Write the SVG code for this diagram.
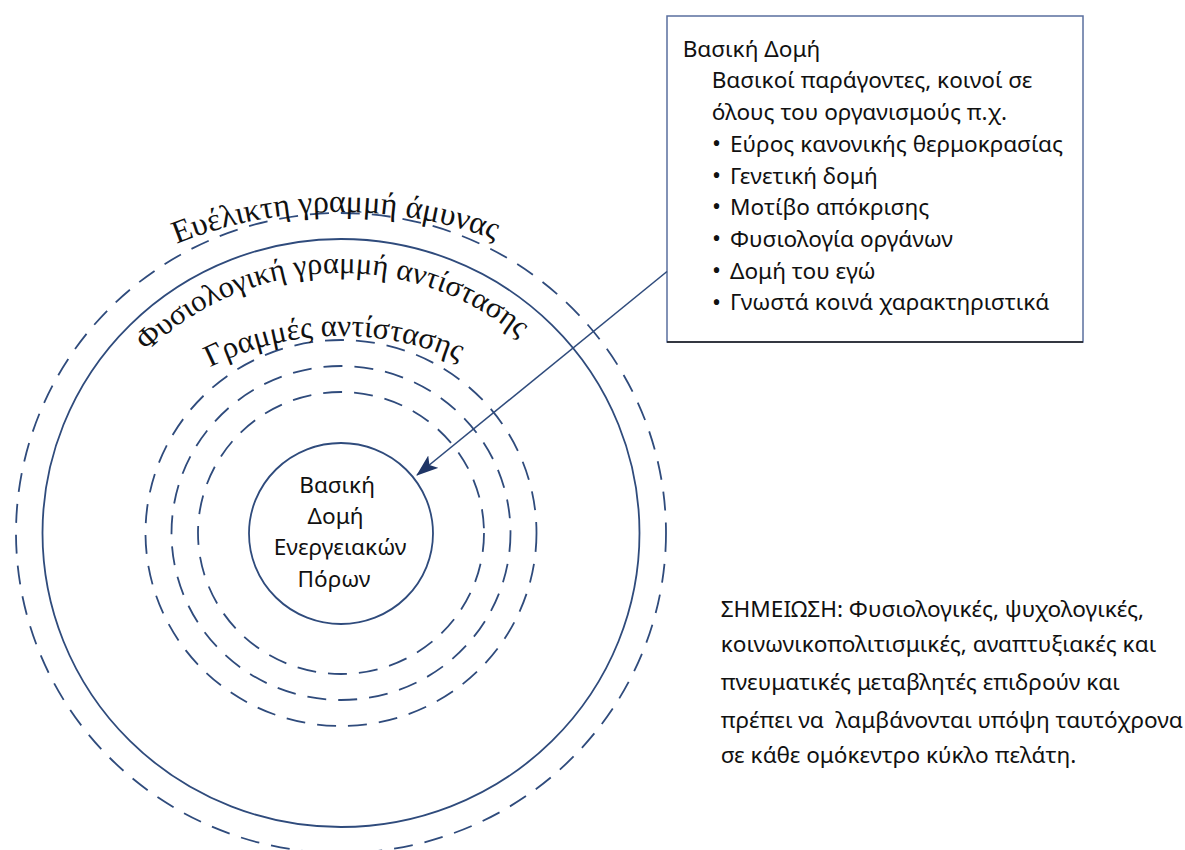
<svg xmlns="http://www.w3.org/2000/svg" width="1185" height="850" viewBox="0 0 1185 850">
  <style>
    .ring { fill: none; stroke: #2f4b7c; stroke-width: 1.8; }
    .dash { stroke-dasharray: 19 12; }
    .serif { font-family: "Liberation Serif", "Times New Roman", serif; fill: #111; }
    .sans { font-family: "Noto Sans", "Open Sans", sans-serif; font-size: 22.6px; fill: #111; }
    .bul { font-size: 24px; }
    .conn { fill: none; stroke: #2f4b7c; stroke-width: 1.6; }
  </style>
  <defs>
    <marker id="arrow" viewBox="0 0 22 16" refX="21" refY="8" markerWidth="22" markerHeight="16" markerUnits="userSpaceOnUse" orient="auto">
      <path d="M22,8 L0,0 L5,8 L0,16 Z" fill="#1f3566"/>
    </marker>
    <path id="arc1" d="M -99,652 A 440 440 0 0 1 781,652"/>
    <path id="arc2" d="M 63,551 A 278 278 0 0 1 619,551"/>
    <path id="arc3" d="M 51,626 A 290 290 0 0 1 631,626"/>
  </defs>
  <rect width="1185" height="850" fill="#ffffff"/>

  <g id="flexible-line">
    <ellipse class="ring dash" cx="341" cy="533" rx="325" ry="320"/>
    <text class="serif" font-size="32"><textPath href="#arc1" startOffset="49.6%" text-anchor="middle">Ευέλικτη γραμμή άμυνας</textPath></text>
  </g>
  <g id="normal-line">
    <ellipse class="ring" cx="341" cy="533" rx="298.5" ry="294"/>
    <text class="serif" font-size="30.5"><textPath href="#arc2" startOffset="48.8%" text-anchor="middle">Φυσιολογική γραμμή αντίστασης</textPath></text>
  </g>
  <g id="lines-of-resistance">
    <ellipse class="ring dash" cx="341" cy="533" rx="195.5" ry="193"/>
    <ellipse class="ring dash" cx="341" cy="533" rx="169.5" ry="167"/>
    <ellipse class="ring dash" cx="341" cy="533" rx="143" ry="141"/>
    <text class="serif" font-size="31"><textPath href="#arc3" startOffset="49.2%" text-anchor="middle">Γραμμές αντίστασης</textPath></text>
  </g>
  <g id="core">
    <ellipse class="ring" cx="341" cy="533.5" rx="92" ry="90.5"/>
    <text class="sans" text-anchor="middle">
      <tspan x="340" y="492.7">Βασική</tspan>
      <tspan x="338.5" y="524">Δομή</tspan>
      <tspan x="343" y="555.3">Ενεργειακών</tspan>
      <tspan x="334" y="586.6">Πόρων</tspan>
    </text>
  </g>

  <g id="basic-structure-box">
    <rect x="667" y="16" width="416" height="326" fill="#ffffff" stroke="#5a6f9e" stroke-width="1.5"/>
    <line x1="667" y1="342" x2="1083" y2="342" stroke="#1a1a1a" stroke-width="1.5"/>
    <text class="sans">
      <tspan x="682.7" y="56.7">Βασική Δομή</tspan>
      <tspan x="711.7" y="88.4">Βασικοί παράγοντες, κοινοί σε</tspan>
      <tspan x="711.7" y="120.1">όλους του οργανισμούς π.χ.</tspan>
      <tspan class="bul" x="712" y="152">•</tspan><tspan x="730" y="151.8">Εύρος κανονικής θερμοκρασίας</tspan>
      <tspan class="bul" x="712" y="183.7">•</tspan><tspan x="730" y="183.5">Γενετική δομή</tspan>
      <tspan class="bul" x="712" y="215.4">•</tspan><tspan x="730" y="215.2">Μοτίβο απόκρισης</tspan>
      <tspan class="bul" x="712" y="247.1">•</tspan><tspan x="730" y="246.9">Φυσιολογία οργάνων</tspan>
      <tspan class="bul" x="712" y="278.8">•</tspan><tspan x="730" y="278.6">Δομή του εγώ</tspan>
      <tspan class="bul" x="712" y="310.5">•</tspan><tspan x="730" y="310.3">Γνωστά κοινά χαρακτηριστικά</tspan>
    </text>
  </g>

  <g id="note">
    <text class="sans" xml:space="preserve"><tspan x="720.7" y="616.5">ΣΗΜΕΙΩΣΗ: Φυσιολογικές, ψυχολογικές,</tspan><tspan x="720.7" y="652">κοινωνικοπολιτισμικές, αναπτυξιακές και</tspan><tspan x="720.7" y="690">πνευματικές μεταβλητές επιδρούν και</tspan><tspan x="720.7" y="728">πρέπει να  λαμβάνονται υπόψη ταυτόχρονα</tspan><tspan x="720.7" y="763">σε κάθε ομόκεντρο κύκλο πελάτη.</tspan></text>
  </g>

  <g id="connectors">
    <line class="conn" x1="667" y1="271.5" x2="417" y2="475" marker-end="url(#arrow)"/>
  </g>
</svg>
